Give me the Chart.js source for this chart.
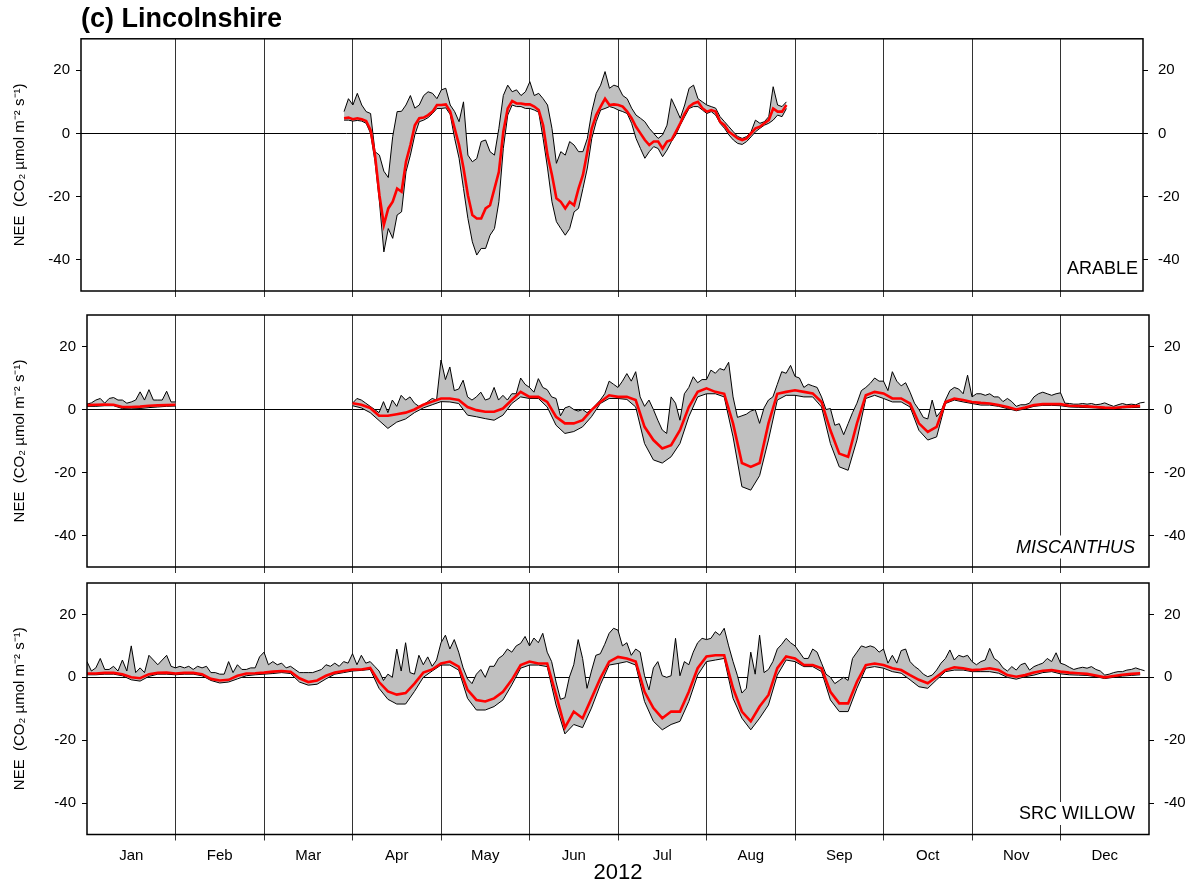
<!DOCTYPE html>
<html>
<head>
<meta charset="utf-8">
<script src="https://cdn.jsdelivr.net/npm/chart.js@4.4.0/dist/chart.umd.min.js"></script>
<style>
  html, body { margin: 0; padding: 0; background: #fff; }
  body { width: 1195px; height: 888px; position: relative; overflow: hidden; }
  canvas { position: absolute; left: 0; }
</style>
</head>
<body>
<canvas id="c1" width="1195" height="299" style="top:0px"></canvas>
<canvas id="c2" width="1195" height="269" style="top:306px"></canvas>
<canvas id="c3" width="1195" height="314" style="top:574px"></canvas>
<script>
// ---------------- DATA ----------------
const monthNames = ['Jan','Feb','Mar','Apr','May','Jun','Jul','Aug','Sep','Oct','Nov','Dec'];
const monthBoundaries = [1,2,3,4,5,6,7,8,9,10,11];
const yTickValues = [-40, -20, 0, 20];
const fineStep = 0.05;   // months between samples (fine series)
const coarseStep = 0.1;  // months between samples (coarse series)

// ARABLE: samples every 0.05 month starting at month 2.9
const arableStart = 2.9;
const arableUpper = [6.9, 11, 9, 12.7, 9, 6.9, 6.3, -5.8, -6.9, -12, -14, -1, 6.9, 7, 9, 12, 8, 9, 12, 13.2,
  12.7, 11, 13.8, 14.3, 9, 6.9, 3.7, 10, -6.9, -9, -8, -2.6, -2.1, -5.8, -6.9, 1.6, 12, 15.3, 13.2, 13.8,
  12, 13.2, 16.4, 12, 12.7, 11, 9, 1.6, -9.5, -5.8, -6.9, -2.6, -3.7, -5.8, -5.8, -1.6, 6.9, 12.7, 15.3, 19.6,
  14.3, 15.3, 14.8, 12, 11, 8, 5.8, 4.8, 3.7, 1.6, 0, -1.6, -0.5, 2.6, 11, 8, 4.8, 9, 14.3, 15.3,
  11, 10, 9, 8.5, 8, 5.3, 3.7, 2.1, 0.5, -1, -1.6, -1, 0.5, 4.2, 3.2, 3.7, 5.3, 14.8, 9, 8.5, 10];
const arableMedian = [4.8, 5, 4.5, 4.8, 4.5, 3.9, 1, -6.9, -19.6, -29, -23.8, -21.7, -17.5, -18.5, -9, -3.7, 2.6, 4.8, 5, 5.8,
  6.9, 9, 9, 9.2, 6.9, 1.6, -3.7, -11, -19.6, -25.9, -27, -27, -23.8, -22.8, -17.5, -12.2, 0.5, 7.9, 10.3, 9.5,
  9.5, 9.2, 9.2, 8.5, 7.4, 2.6, -6.9, -13.2, -20.6, -21.7, -23.8, -21.7, -22.8, -17.5, -13.2, -5.8, 1.6, 5.8, 8.5, 11,
  9, 9.2, 9, 8.5, 6.9, 4.8, 2.1, 0, -2.1, -3.7, -2.6, -2.6, -4.8, -2.6, -2.1, 0.5, 3.2, 6.3, 8.5, 9.5,
  10, 8, 6.9, 7.4, 6.9, 3.7, 2.6, 0.5, -0.5, -1.6, -2.1, -1.6, 0, 1.6, 2.1, 3.2, 4.2, 7.9, 6.9, 6.9, 9];
const arableLower = [4.2, 4.2, 3.9, 4.1, 3.9, 3.2, 0, -9, -21.7, -37.6, -30.2, -33.3, -25.9, -24.9, -12.2, -6.9, -0.5, 3.7, 4.2, 5,
  6.3, 7.9, 7.9, 8.1, 6, -1.6, -7.9, -17.5, -27, -34.4, -38.6, -36.5, -36.5, -32.3, -30.2, -21.7, -4.8, 5.8, 9, 8.5,
  8.5, 7.9, 7.9, 7.4, 6.7, -1.6, -11, -21.7, -28, -30.2, -32.3, -30.2, -24.9, -23.8, -17.5, -11, -1.6, 3.7, 7.4, 7.9,
  8.5, 8.1, 7.4, 6.9, 6.3, 3.2, -1.6, -4.8, -7.9, -5.8, -4.2, -4.8, -7.4, -5.3, -2.6, -0.5, 2.6, 5.3, 7.9, 8.5,
  8.5, 7.4, 6.3, 6.9, 5.8, 3.2, 1.6, -0.5, -2.1, -3.2, -3.5, -2.6, -1.1, 0.5, 1.6, 2.6, 3.2, 4.2, 5.8, 5.3, 7.9];

// MISCANTHUS: January segment (from month 0) and main segment (from month 3.0)
const miscJanStart = 0;
const miscJanUpper = [1.7, 2.1, 3, 3.5, 2, 3.5, 3.8, 3, 3, 2, 2.4, 3, 5.6, 3, 6.3, 3, 3, 3, 5.8, 2.4, 2.4];
const miscJanMedian = [1.4, 1.5, 1.6, 1.5, 0.8, 0.8, 0.9, 1.2, 1.3, 1.4, 1.5];
const miscJanLower = [1, 1, 1.2, 1.2, 0.3, 0.2, 0.3, 0.6, 0.8, 1, 1.1];
const miscMainStart = 3.0;
const miscUpper = [
  2, 3.5, 3, 2, 1, 0, -1, 2.5, -1, 3, 1, 4.5, 3, 4, 2, 1, 1.5, 2.5, 3.5, 3,
  15.7, 9.5, 13.5, 6, 6.5, 9.3, 4, 3, 4, 5.5, 3, 3.5, 7, 3, 4.5, 3, 5, 5, 10, 8,
  7, 5.5, 9.8, 7, 6.3, 4, 3.5, -2, 0.5, 1, 0, -0.5, 0, -1, 0, 1.5, 3, 5, 9, 8,
  7, 9, 11.4, 9, 12, 4, 1, 3, 0, -3.4, -6.5, -7.6, 4, 2, -3.4, 5, 7, 10.4, 8.5, 9.5,
  9.5, 12.5, 11.5, 13, 12.5, 15, 4, -2.5, -2, -1.5, -0.5, 0, -4.4, 0.5, 3, 4, 8, 12, 11.5, 14,
  10.5, 10, 7, 8, 7.5, 7, 4, 0, 0.3, -5, -4.5, -8, -4.5, -1, 2, 6, 7, 8.3, 10, 9,
  9, 6, 12, 9, 7.5, 8.5, 5.5, 2, 0, -2.5, -3, 3, -2.3, -0.5, 3, 6, 7, 6.5, 5, 10.9,
  4, 5, 5, 4.5, 5, 4, 4, 2.5, 3.5, 2.5, 1, 1.5, 1.5, 2, 4, 5, 5.5, 5, 4.5, 5,
  5.3, 2, 1.9, 1.7, 1.7, 1.9, 1.7, 1.9, 1.5, 1.7, 2.1, 1.5, 1, 1.5, 1.9, 1.5, 1.7, 1.5, 2.1, 2.3];
const miscMedian = [2, 1.5, 0.5, -2, -2, -1.5, -1, 0, 1.5, 2.5,
  3.5, 3.5, 3, 0.8, -0.2, -0.7, -0.7, 0.3, 3, 5.6,
  4, 4, 2.4, -2.3, -4.4, -4.4, -3.4, -0.2, 2.4, 4.5,
  4, 4, 3, -5.5, -9.7, -12.4, -11.3, -6.6, 0.8, 5.6,
  6.7, 5.6, 5, -4.4, -17, -18.2, -17, -4.4, 5, 5.6,
  6.1, 5.6, 5.1, 2.4, -6.6, -14, -15, -4.4, 4.5, 5.6,
  5.1, 3.5, 3.5, 1.9, -4.4, -7.1, -5.5, 2.4, 3.5, 3,
  2.4, 2.1, 1.9, 1.4, 0.8, 0, 0.6, 1.4, 1.7, 1.7,
  1.7, 1.2, 1.1, 1, 0.8, 0.6, 0.5, 0.8, 1, 1.1];
const miscLower = [1.2, 0.5, -1, -3.5, -6, -4, -3, -1, 0.5, 1.5,
  2.5, 2.4, 1.9, -1.8, -2.3, -2.9, -3.4, -1.8, 1.9, 4,
  3.5, 3.5, 0.8, -5, -7.6, -7, -5.5, -2.3, 1.9, 3.5,
  3.5, 3.2, 0.8, -10.8, -16, -17, -15, -10.8, -2.3, 4,
  5, 5, 4, -8.7, -24.5, -25.6, -21, -9.7, 3, 4.5,
  4.5, 4, 4, 0.8, -10.8, -18.2, -19.3, -9.7, 3.5, 4.5,
  3.5, 2.4, 2.4, 0.8, -6.6, -9.7, -8.7, 1.9, 3, 2.4,
  1.9, 1.4, 1.4, 1, 0.3, -0.4, 0.2, 1, 1.3, 1.3,
  1.2, 0.8, 0.7, 0.6, 0.5, 0.3, 0.2, 0.5, 0.6, 0.7];

// SRC WILLOW: full year from month 0
const willowStart = 0;
const willowUpper = [
  5, 2, 3, 6, 2.5, 2.5, 3.5, 2, 5.5, 2, 10, 1.5, 3, 1.5, 7, 5.5, 4, 5.5, 7, 3.5,
  3, 3.5, 3, 3.5, 2.5, 3.5, 3, 3.5, 1.5, 1.5, 1, 1, 5, 1.5, 4, 2.5, 2.5, 3, 3, 6.5,
  8, 4, 5, 4, 4.5, 3, 3.5, 2.5, 1.5, 1.5, 1.5, 1.5, 2, 2.5, 4, 3.5, 4.5, 3.5, 5, 4.5,
  7.5, 4, 7, 4.5, 5, 3.5, 2, -1, 1, 0, 9, 2, 11, 1.5, 1, 7, 4, 6.5, 3.5, 5.5,
  11, 13.4, 9, 12, 8, 3, -0.5, -2, 1, 2.5, 0, 3.5, 3.5, 6, 7, 9, 8, 10, 10.8, 13,
  10, 12.5, 11, 14, 8, 5, -1.5, -7, -6.5, 0, 4, 12, 6, -3.5, 2, 7, 7.5, 10.5, 14, 15.6,
  15, 10, 11, 7, 9, 8, 0.5, -4, 3, 5, 0.5, 0, 0.5, 12.4, 0.5, 5, 4, 8, 11, 12.4,
  12, 12.4, 14.5, 13.4, 15.6, 10, 5, 0.5, -5, -3.5, 8, 1, 13.4, 1.5, 2.5, 5, 9, 10.5, 12.4, 11,
  10, 8, 6, 6, 9, 8, 4.5, 1, 0, -2, -1, 0, -1, 6, 8, 10, 9.5, 10, 9.5, 8,
  9, 4.5, 7, 4.5, 8.5, 9, 5, 3.5, 2.5, 1, 0.2, 0.7, 2.3, 4.5, 6, 8.7, 5.5, 7, 6.5, 7,
  5, 4, 5, 5.5, 9.2, 6, 5, 3, 2, 3.4, 2.3, 4, 4.5, 2.3, 3.4, 4, 4.5, 6, 5, 7.8,
  4.5, 4, 3.2, 2.5, 2.9, 3.2, 2.9, 3.4, 2.5, 2, 0.7, 1, 1.5, 1.8, 1.8, 2.3, 2.5, 3, 2.5, 2.1];
const willowMedian = [1.2, 1.2, 1.4, 1.4, 1, 0, -0.3, 1, 1.4, 1.5,
  1.2, 1.4, 1.4, 1, -0.5, -1, -0.8, 0.5, 1.2, 1.3,
  1.5, 1.8, 2, 1.8, -0.3, -1.5, -1, 0.5, 1.5, 2,
  2.5, 2.5, 3, -1.5, -4.5, -5.5, -5, -2, 1.5, 2.5,
  4.4, 5, 3.4, -4, -7.2, -7.7, -6.7, -4.6, -0.8, 3.9,
  5, 4.4, 4.4, -5.6, -16, -10.9, -13, -6.7, -0.3, 5,
  6.5, 6, 5, -4.6, -9.8, -13, -10.9, -10.9, -4.6, 2.9,
  6.6, 7, 7, -3.5, -10.9, -14, -9.3, -5.6, 2.9, 6.6,
  6, 3.9, 3.9, 2.9, -4.6, -8.3, -8.3, -1.4, 3.9, 4.4,
  3.9, 2.9, 2.3, 0.7, -0.8, -1.9, 0.2, 2.3, 3.2, 2.9,
  2.3, 2.5, 2.9, 2.3, 0.7, 0.2, 0.7, 1.5, 2.1, 2.3,
  1.8, 1.5, 1.3, 1.1, 0.6, 0, 0.4, 0.8, 1.1, 1.3];
const willowLower = [0.8, 0.8, 1, 1, 0.5, -0.8, -1.2, 0.3, 1, 1,
  0.8, 1, 1, 0.5, -1, -1.8, -1.5, -0.5, 0.5, 0.8,
  1, 1.2, 1.5, 1.2, -1.5, -2.5, -2.2, -0.5, 1, 1.5,
  2, 2.2, 2.5, -3.5, -7, -8.5, -8.5, -4.5, 0, 2,
  3.9, 3.9, 2.3, -6.7, -10.4, -10.4, -9.3, -7.2, -2.4, 2.9,
  3.9, 3.9, 3.4, -8.8, -18, -15, -16, -9.8, -2.4, 3.9,
  4.4, 5, 3.9, -7.7, -14, -16.7, -15, -14, -7.7, 0.7,
  5, 5.5, 6, -6.7, -13, -16.7, -13, -8.8, 0.7, 5.5,
  5, 3.4, 3.4, 1.8, -7.2, -10.9, -10.9, -3.5, 2.9, 3.4,
  2.9, 1.8, 1.3, -0.8, -3, -3.5, -0.8, 1.8, 2.3, 2.3,
  1.8, 1.8, 1.8, 1.3, 0, -0.6, 0.2, 0.7, 1.5, 1.8,
  1.1, 0.8, 0.7, 0.6, 0.2, -0.4, 0, 0.4, 0.6, 0.8];

// ---------------- HELPERS ----------------
function pts(start, arr, st) {
  return arr.map((v, i) => ({ x: Math.round((start + i * st) * 1000) / 1000, y: v }));
}
function joinSegs(a, b) {
  const gapX = (a[a.length - 1].x + b[0].x) / 2;
  return a.concat([{ x: gapX, y: null }], b);
}

Chart.defaults.font.family = "'Liberation Sans', Arial, Helvetica, sans-serif";
Chart.defaults.color = '#000';

const framePlugin = {
  id: 'frame',
  afterDraw(chart) {
    const a = chart.chartArea, ctx = chart.ctx;
    ctx.save();
    ctx.strokeStyle = '#000';
    ctx.lineWidth = 1.5;
    ctx.strokeRect(a.left, a.top, a.right - a.left, a.bottom - a.top);
    ctx.restore();
  }
};
const labelPlugin = {
  id: 'panelLabel',
  afterDatasetsDraw(chart, args, o) {
    if (!o || !o.text) return;
    const a = chart.chartArea, ctx = chart.ctx;
    ctx.save();
    ctx.font = (o.italic ? 'italic ' : '') + "18px 'Liberation Sans', Arial, sans-serif";
    const w = ctx.measureText(o.text).width;
    const xr = a.right - o.right, yb = a.bottom - o.bottom;
    ctx.fillStyle = '#fff';
    ctx.fillRect(xr - w - 3, yb - 17, w + 6, 23);
    ctx.fillStyle = '#000';
    ctx.textAlign = 'right';
    ctx.textBaseline = 'alphabetic';
    ctx.fillText(o.text, xr, yb);
    ctx.restore();
  }
};

const isBoundary = v => Math.abs(v - Math.round(v)) < 1e-6;

function makeChart(id, cfg) {
  const xTicks = cfg.showMonths
    ? monthBoundaries.concat(monthNames.map((m, i) => i + 0.5)).sort((a, b) => a - b)
    : monthBoundaries.slice();
  new Chart(document.getElementById(id), {
    type: 'line',
    data: {
      datasets: [
        { label: 'Median', data: cfg.median, borderColor: '#ff0000', borderWidth: 2.6,
          pointRadius: 0, fill: false, tension: 0, spanGaps: false },
        { label: 'Upper', data: cfg.upper, borderColor: '#000', borderWidth: 1,
          pointRadius: 0, tension: 0, spanGaps: false,
          fill: { target: 2, above: '#c0c0c0', below: '#c0c0c0' } },
        { label: 'Lower', data: cfg.lower, borderColor: '#000', borderWidth: 1,
          pointRadius: 0, tension: 0, spanGaps: false, fill: false }
      ]
    },
    options: {
      responsive: false,
      animation: false,
      events: [],
      layout: { padding: { top: cfg.padTop, left: 0, right: 0, bottom: 0 } },
      plugins: {
        legend: { display: false },
        tooltip: { enabled: false },
        filler: { drawTime: 'beforeDatasetsDraw' },
        title: cfg.title ? {
          display: true, text: cfg.title, align: 'start', fullSize: false,
          font: { size: 27, weight: 'bold' }, color: '#000',
          padding: { top: 3, bottom: 3.4 }
        } : { display: false },
        panelLabel: cfg.label
      },
      scales: {
        x: {
          type: 'linear', position: 'bottom', min: cfg.xMin, max: cfg.xMax,
          afterBuildTicks: s => { s.ticks = xTicks.map(v => ({ value: v })); },
          afterFit: s => { s.height = cfg.xHeight; s.paddingLeft = 0; s.paddingRight = 0; },
          grid: {
            color: c => (c.tick && isBoundary(c.tick.value)) ? '#333' : 'rgba(0,0,0,0)',
            tickColor: c => (c.tick && isBoundary(c.tick.value)) ? '#333' : 'rgba(0,0,0,0)',
            lineWidth: 1, tickLength: 6, drawTicks: true
          },
          border: { display: false },
          ticks: {
            display: !!cfg.showMonths, autoSkip: false, maxRotation: 0, minRotation: 0,
            padding: 6, font: { size: 15 }, color: '#000',
            callback: v => isBoundary(v) ? '' : monthNames[Math.floor(v)]
          },
          title: cfg.showMonths ? {
            display: true, text: '2012', font: { size: 22 }, color: '#000',
            padding: { top: 0, bottom: 2 }
          } : { display: false }
        },
        y: {
          type: 'linear', position: 'left', min: -50, max: 30,
          afterBuildTicks: s => { s.ticks = yTickValues.map(v => ({ value: v })); },
          afterFit: s => { s.width = cfg.leftW; s.paddingTop = 0; s.paddingBottom = 0; },
          grid: {
            color: c => (c.tick && c.tick.value === 0) ? '#000' : 'rgba(0,0,0,0)',
            tickColor: '#000', lineWidth: 1, tickLength: 5, drawTicks: true
          },
          border: { display: false },
          ticks: { font: { size: 15 }, color: '#000', padding: 6 },
          title: {
            display: true, text: 'NEE  (CO\u2082 \u00b5mol m\u207b\u00b2 s\u207b\u00b9)',
            font: { size: 15 }, color: '#000', padding: { top: 11, bottom: 0 }
          }
        },
        y2: {
          type: 'linear', position: 'right', min: -50, max: 30,
          afterBuildTicks: s => { s.ticks = yTickValues.map(v => ({ value: v })); },
          afterFit: s => { s.width = cfg.rightW; s.paddingTop = 0; s.paddingBottom = 0; },
          grid: { drawOnChartArea: false, tickColor: '#000', tickLength: 5, drawTicks: true },
          border: { display: false },
          ticks: { font: { size: 15 }, color: '#000', padding: 10 }
        }
      }
    },
    plugins: [framePlugin, labelPlugin]
  });
}

makeChart('c1', {
  upper: pts(arableStart, arableUpper, fineStep),
  median: pts(arableStart, arableMedian, fineStep),
  lower: pts(arableStart, arableLower, fineStep),
  xMin: -0.073, xMax: 11.93, padTop: 0, xHeight: 8, leftW: 81, rightW: 52,
  title: '(c) Lincolnshire',
  label: { text: 'ARABLE', italic: false, right: 5, bottom: 17.5 }
});
makeChart('c2', {
  upper: joinSegs(pts(miscJanStart, miscJanUpper, fineStep), pts(miscMainStart, miscUpper, fineStep)),
  median: joinSegs(pts(miscJanStart, miscJanMedian, coarseStep), pts(miscMainStart, miscMedian, coarseStep)),
  lower: joinSegs(pts(miscJanStart, miscJanLower, coarseStep), pts(miscMainStart, miscLower, coarseStep)),
  xMin: 0, xMax: 12, padTop: 9, xHeight: 8, leftW: 87, rightW: 46,
  label: { text: 'MISCANTHUS', italic: true, right: 14, bottom: 14.5 }
});
makeChart('c3', {
  upper: pts(willowStart, willowUpper, fineStep),
  median: pts(willowStart, willowMedian, coarseStep),
  lower: pts(willowStart, willowLower, coarseStep),
  xMin: 0, xMax: 12, padTop: 9, xHeight: 53.5, leftW: 87, rightW: 46,
  showMonths: true,
  label: { text: 'SRC WILLOW', italic: false, right: 14, bottom: 15.5 }
});
</script>
</body>
</html>
